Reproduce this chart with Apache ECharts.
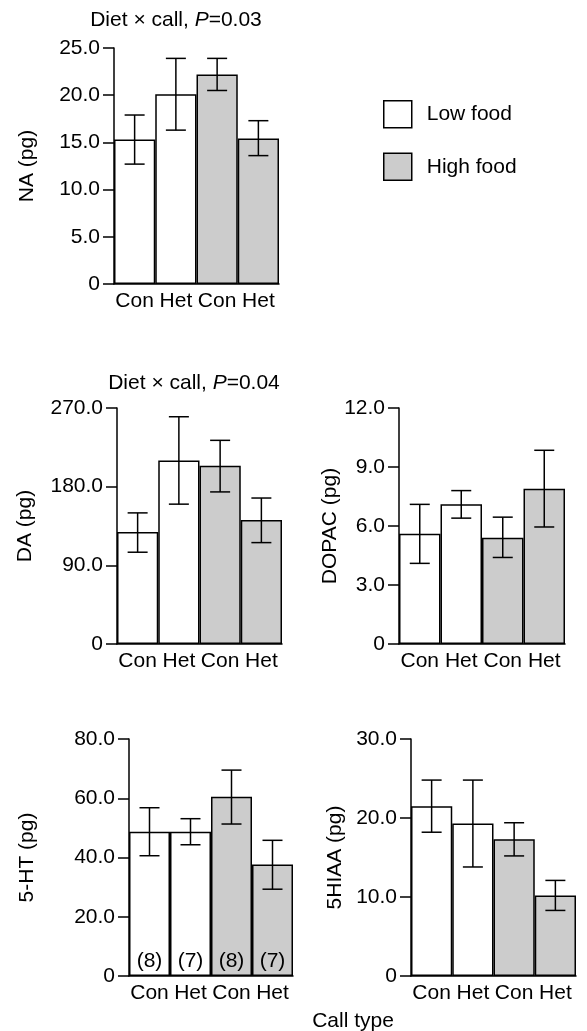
<!DOCTYPE html>
<html>
<head>
<meta charset="utf-8">
<script src="https://cdn.jsdelivr.net/npm/echarts@6/dist/echarts.min.js"></script>
<style>
  html, body { margin: 0; padding: 0; background: #fff; }
  #chart { width: 587px; height: 1031px; }
</style>
</head>
<body>
<div id="chart"></div>
<script>
const categories = ['Con', 'Het', 'Con', 'Het']
const diets = ['Low food', 'Low food', 'High food', 'High food']

// means and error limits
const naMean = [15.3, 20.1, 22.2, 15.4]
const naLow = [12.7, 16.3, 20.5, 13.6]
const naHigh = [17.9, 23.9, 23.9, 17.3]

const daMean = [128, 210, 204, 142]
const daLow = [105, 160, 174, 116]
const daHigh = [150, 260, 233, 167]

const dopacMean = [5.6, 7.1, 5.4, 7.9]
const dopacLow = [4.1, 6.4, 4.4, 5.95]
const dopacHigh = [7.1, 7.8, 6.45, 9.85]

const htMean = [48.7, 48.7, 60.5, 37.6]
const htLow = [40.6, 44.3, 51.3, 29.3]
const htHigh = [56.8, 53.1, 69.5, 45.8]

const hiaaMean = [21.5, 19.3, 17.3, 10.2]
const hiaaLow = [18.2, 13.8, 15.2, 8.3]
const hiaaHigh = [24.8, 24.8, 19.4, 12.1]

const sampleSizes = ['(8)', '(7)', '(8)', '(7)']

const naTicks = { max: 25, interval: 5 }
const daTicks = { max: 270, interval: 90 }
const dopacTicks = { max: 12, interval: 3 }
const htTicks = { max: 80, interval: 20 }
const hiaaTicks = { max: 30, interval: 10 }

const FONT = 'Liberation Sans, Arial, sans-serif'
const FS = 21

const panels = [
    { name: 'NA (pg)', mean: naMean, lo: naLow, hi: naHigh, ticks: naTicks, grid: { left: 114, top: 48, width: 165, height: 236 }, nameGap: 76 },
    { name: 'DA (pg)', mean: daMean, lo: daLow, hi: daHigh, ticks: daTicks, grid: { left: 117, top: 408, width: 165, height: 236 }, nameGap: 81 },
    { name: 'DOPAC (pg)', mean: dopacMean, lo: dopacLow, hi: dopacHigh, ticks: dopacTicks, grid: { left: 399, top: 408, width: 166, height: 236 }, nameGap: 53 },
    { name: '5-HT (pg)', mean: htMean, lo: htLow, hi: htHigh, ticks: htTicks, grid: { left: 129, top: 739, width: 164, height: 237 }, nameGap: 91, n: sampleSizes },
    { name: '5HIAA (pg)', mean: hiaaMean, lo: hiaaLow, hi: hiaaHigh, ticks: hiaaTicks, grid: { left: 411, top: 739, width: 165, height: 237 }, nameGap: 65 }
]

const grid = []
const xAxis = []
const yAxis = []
const series = []

panels.forEach((p, i) => {
    grid.push(p.grid)
    xAxis.push({
        type: 'category',
        gridIndex: i,
        data: categories,
        axisTick: { show: false },
        axisLine: { lineStyle: { color: '#000', width: 1.5 } },
        axisLabel: { color: '#000', fontFamily: FONT, fontSize: FS, margin: 7, interval: 0 }
    })
    yAxis.push({
        type: 'value',
        gridIndex: i,
        min: 0,
        max: p.ticks.max,
        interval: p.ticks.interval,
        name: p.name,
        nameLocation: 'middle',
        nameRotate: 90,
        nameGap: p.nameGap,
        nameTextStyle: { color: '#000', fontFamily: FONT, fontSize: FS },
        splitLine: { show: false },
        axisLine: { show: true, lineStyle: { color: '#000', width: 1.5 } },
        axisTick: { show: true, length: 11, lineStyle: { color: '#000', width: 1.5 } },
        axisLabel: {
            color: '#000', fontFamily: FONT, fontSize: FS, margin: 14,
            formatter: v => v === 0 ? '0' : v.toFixed(1)
        }
    })
    const label = p.n ? {
        show: true,
        position: 'insideBottom',
        distance: 4,
        color: '#000',
        fontFamily: FONT,
        fontSize: FS,
        formatter: d => p.n[d.dataIndex]
    } : { show: false }
    ;['Low food', 'High food'].forEach(diet => {
        series.push({
            name: diet,
            type: 'bar',
            xAxisIndex: i,
            yAxisIndex: i,
            stack: 'p' + i,
            barCategoryGap: '0%',
            data: p.mean.map((v, k) => diets[k] === diet ? v : '-'),
            itemStyle: {
                color: diet === 'Low food' ? '#ffffff' : '#cccccc',
                borderColor: '#000',
                borderWidth: 1.5
            },
            label: label,
            silent: true
        })
    })
    // error bars
    series.push({
        type: 'custom',
        xAxisIndex: i,
        yAxisIndex: i,
        data: p.mean.map((v, k) => [k, p.lo[k], p.hi[k]]),
        encode: { x: 0, y: [1, 2] },
        z: 10,
        silent: true,
        renderItem: (params, api) => {
            const top = api.coord([api.value(0), api.value(2)])
            const bot = api.coord([api.value(0), api.value(1)])
            const w = 10
            const style = { stroke: '#000', lineWidth: 1.5 }
            return {
                type: 'group',
                children: [
                    { type: 'line', shape: { x1: top[0], y1: top[1], x2: bot[0], y2: bot[1] }, style },
                    { type: 'line', shape: { x1: top[0] - w, y1: top[1], x2: top[0] + w, y2: top[1] }, style },
                    { type: 'line', shape: { x1: bot[0] - w, y1: bot[1], x2: bot[0] + w, y2: bot[1] }, style }
                ]
            }
        }
    })
})

const chart = echarts.init(document.getElementById('chart'))
chart.setOption({
    backgroundColor: '#fff',
    animation: false,
    textStyle: { fontFamily: FONT },
    legend: {
        orient: 'vertical',
        left: 383,
        top: 100,
        padding: 0,
        itemWidth: 28,
        itemHeight: 27,
        itemGap: 24,
        icon: 'rect',
        selectedMode: false,
        data: ['Low food', 'High food'],
        itemStyle: { borderColor: '#000', borderWidth: 1.5 },
        textStyle: { color: '#000', fontFamily: FONT, fontSize: FS, padding: [0, 0, 0, 10] }
    },
    graphic: [
        {
            type: 'text', left: null, x: 176, y: 20,
            style: {
                text: 'Diet × call, {i|P}=0.03',
                rich: { i: { fontStyle: 'italic', fontFamily: FONT, fontSize: FS, fill: '#000' } },
                fontFamily: FONT, fontSize: FS, fill: '#000',
                align: 'center', verticalAlign: 'middle'
            }
        },
        {
            type: 'text', x: 194, y: 383,
            style: {
                text: 'Diet × call, {i|P}=0.04',
                rich: { i: { fontStyle: 'italic', fontFamily: FONT, fontSize: FS, fill: '#000' } },
                fontFamily: FONT, fontSize: FS, fill: '#000',
                align: 'center', verticalAlign: 'middle'
            }
        },
        {
            type: 'text', x: 353, y: 1021,
            style: {
                text: 'Call type',
                fontFamily: FONT, fontSize: FS, fill: '#000',
                align: 'center', verticalAlign: 'middle'
            }
        }
    ],
    grid: grid,
    xAxis: xAxis,
    yAxis: yAxis,
    series: series
})
</script>
</body>
</html>
